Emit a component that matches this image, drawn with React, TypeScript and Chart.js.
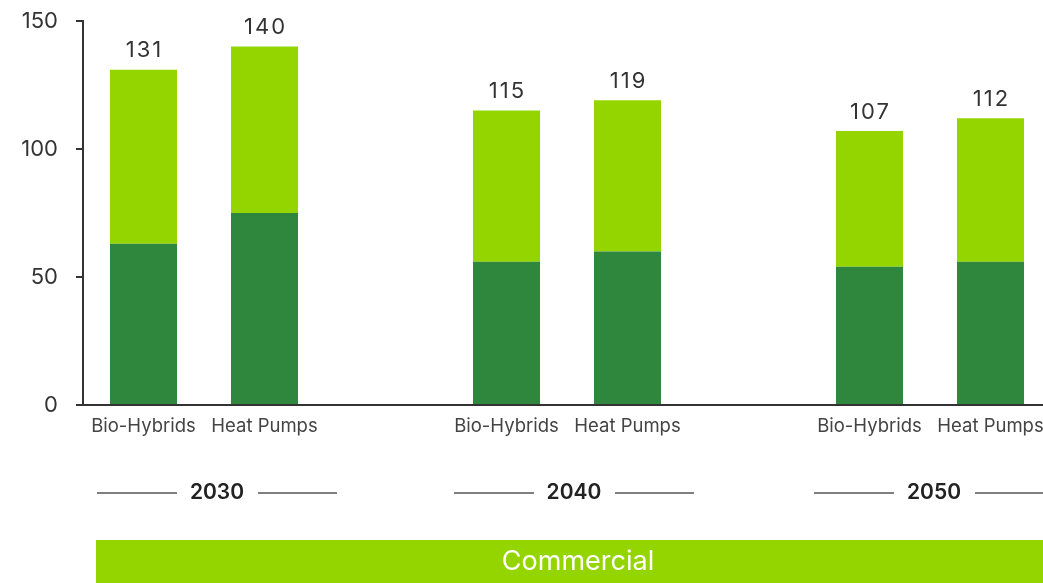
import React, { useEffect, useRef } from "react";
import { Chart, registerables } from "chart.js";

Chart.register(...registerables);

const categories = ["Bio-Hybrids", "Heat Pumps", "", "Bio-Hybrids", "Heat Pumps", "", "Bio-Hybrids", "Heat Pumps"];
const darkValues = [63, 75, null, 56, 60, null, 54, 56];
const lightValues = [68, 65, null, 59, 59, null, 53, 56];
const totals = [131, 140, null, 115, 119, null, 107, 112];
const years = ["2030", "2040", "2050"];
const groupBars = [[0, 1], [3, 4], [6, 7]];
const bannerText = "Commercial";
const yTicks = [0, 50, 100, 150];

const DARK = "#2f873d";
const LIGHT = "#94d500";
const FONT = "Inter, 'Liberation Sans', Arial, sans-serif";
const yearShift = [13, 7, 4];

const overlayPlugin = {
  id: "overlay",
  afterDraw(chart: any) {
    const ctx = chart.ctx;
    const x = chart.scales.x;
    const y = chart.scales.y;
    ctx.save();
    // totals
    ctx.font = `22px ${FONT}`;
    try { (ctx as any).letterSpacing = "2px"; } catch (e) {}
    ctx.fillStyle = "#333";
    ctx.textAlign = "center";
    ctx.textBaseline = "bottom";
    totals.forEach((t, i) => {
      if (t == null) return;
      ctx.fillText(String(t), x.getPixelForValue(i) + 1, y.getPixelForValue(t) - 8);
    });
    try { (ctx as any).letterSpacing = "0px"; } catch (e) {}
    // years
    ctx.font = `600 21px ${FONT}`;
    ctx.fillStyle = "#222";
    ctx.textBaseline = "middle";
    ctx.strokeStyle = "#555";
    ctx.lineWidth = 1.5;
    years.forEach((yr, g) => {
      const [a, b] = groupBars[g];
      const cx = (x.getPixelForValue(a) + x.getPixelForValue(b)) / 2 + yearShift[g];
      const cy = 493;
      ctx.fillText(yr, cx, cy);
      ctx.beginPath();
      ctx.moveTo(cx - 120, cy);
      ctx.lineTo(cx - 40, cy);
      ctx.moveTo(cx + 41, cy);
      ctx.lineTo(cx + 120, cy);
      ctx.stroke();
    });
    // banner
    const left = 96;
    const right = chart.width;
    ctx.fillStyle = LIGHT;
    ctx.fillRect(left, 540, right - left, 50);
    ctx.fillStyle = "#fff";
    ctx.font = `27px ${FONT}`;
    ctx.fillText(bannerText, (left + right) / 2, 562);
    ctx.restore();
  },
};

export default function App() {
  const ref = useRef<HTMLCanvasElement | null>(null);
  useEffect(() => {
    document.body.style.margin = "0";
    document.body.style.overflow = "hidden";
    const chart = new Chart(ref.current!, {
      type: "bar",
      data: {
        labels: categories,
        datasets: [
          { label: "Dark", data: darkValues as any, backgroundColor: DARK, barPercentage: 0.554, categoryPercentage: 1 },
          { label: "Light", data: lightValues as any, backgroundColor: LIGHT, barPercentage: 0.554, categoryPercentage: 1 },
        ],
      },
      options: {
        animation: false,
        responsive: false,
        maintainAspectRatio: false,
        layout: { padding: { top: 21, right: 9, left: 0, bottom: 0 } },
        plugins: { legend: { display: false }, tooltip: { enabled: false } },
        scales: {
          x: {
            stacked: true,
            grid: { display: false, drawTicks: false },
            border: { display: true, color: "#333", width: 2 },
            ticks: { color: "#444", font: { family: FONT, size: 18.5 }, padding: 10, maxRotation: 0, autoSkip: false },
            afterFit: (s: any) => { s.height = 178; },
          },
          y: {
            stacked: true,
            min: 0,
            max: 150,
            afterBuildTicks: (s: any) => { s.ticks = yTicks.map((v) => ({ value: v })); },
            grid: { drawOnChartArea: false, drawTicks: true, tickLength: 7, color: "#333", lineWidth: 2 },
            border: { display: true, color: "#333", width: 2 },
            ticks: { color: "#333", font: { family: FONT, size: 22 }, padding: 18 },
            afterFit: (s: any) => { s.width = 83; s.paddingTop = 0; s.paddingBottom = 0; },
          },
        },
      },
      plugins: [overlayPlugin],
    });
    return () => chart.destroy();
  }, []);
  return (
    <div style={{ position: "fixed", left: 0, top: 0, width: 1060, height: 583, overflow: "hidden" }}>
      <canvas ref={ref} width={1060} height={583} style={{ width: 1060, height: 583 }} />
    </div>
  );
}
